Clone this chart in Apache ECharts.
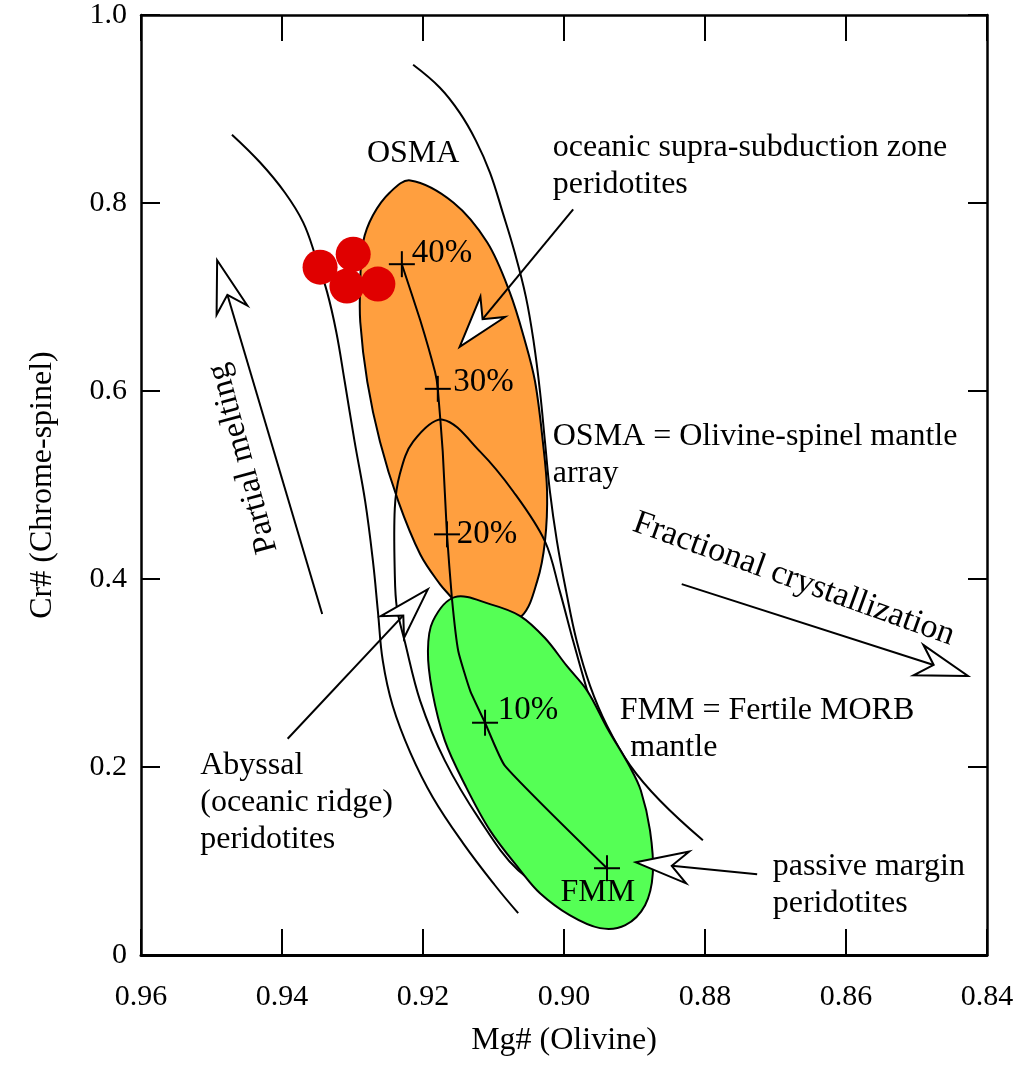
<!DOCTYPE html>
<html lang="en">
<head>
<meta charset="UTF-8">
<title>Cr# spinel vs Mg# olivine</title>
<script src="https://cdn.jsdelivr.net/npm/echarts/dist/echarts.min.js"></script>
<style>
  html, body { margin: 0; padding: 0; background: #fff; }
  #main { width: 1026px; height: 1067px; }
</style>
</head>
<body>
<div id="main"></div>
<script>
var FONT = '"Liberation Serif", "Times New Roman", serif';

// outlines as [Mg# olivine, Cr# spinel]
var osmaField = [
  [0.9218, 0.8240], [0.9157, 0.8006], [0.9109, 0.7582], [0.9077, 0.7052], [0.9055, 0.6522],
  [0.9041, 0.6098], [0.9030, 0.5461], [0.9024, 0.4931], [0.9027, 0.4401], [0.9038, 0.3977],
  [0.9060, 0.3606], [0.9105, 0.3468], [0.9140, 0.3574], [0.9159, 0.3796], [0.9176, 0.3945],
  [0.9204, 0.4263], [0.9235, 0.4825], [0.9261, 0.5461], [0.9279, 0.6098], [0.9289, 0.6734],
  [0.9289, 0.7158], [0.9285, 0.7582], [0.9271, 0.7869], [0.9247, 0.8112]
];
var fmmField = [
  [0.9155, 0.3807], [0.9105, 0.3733], [0.9062, 0.3606], [0.9027, 0.3372], [0.8996, 0.3075],
  [0.8967, 0.2810], [0.8939, 0.2418], [0.8906, 0.1994], [0.8891, 0.1750], [0.8878, 0.1326],
  [0.8874, 0.0870], [0.8885, 0.0530], [0.8913, 0.0318], [0.8949, 0.0286], [0.8992, 0.0424],
  [0.9034, 0.0657], [0.9062, 0.0901], [0.9105, 0.1326], [0.9140, 0.1803], [0.9169, 0.2280],
  [0.9187, 0.2810], [0.9193, 0.3234], [0.9186, 0.3552]
];
var abyssalField = [
  [0.9172, 0.5695], [0.9119, 0.5355], [0.9072, 0.4931], [0.9027, 0.4401], [0.9006, 0.3871],
  [0.8987, 0.3340], [0.8967, 0.2810], [0.8942, 0.2174], [0.8935, 0.1432], [0.8963, 0.0795],
  [0.9013, 0.0689], [0.9065, 0.0901], [0.9119, 0.1432], [0.9169, 0.2068], [0.9204, 0.2704],
  [0.9226, 0.3340], [0.9237, 0.3690], [0.9240, 0.4051], [0.9240, 0.4751], [0.9233, 0.5111],
  [0.9214, 0.5461]
];
var curveLeft = [
  [0.9471, 0.8727], [0.9431, 0.8431], [0.9396, 0.8112], [0.9370, 0.7794], [0.9352, 0.7423],
  [0.9336, 0.7052], [0.9323, 0.6628], [0.9311, 0.6098], [0.9297, 0.5461], [0.9282, 0.4825],
  [0.9271, 0.4189], [0.9264, 0.3659], [0.9257, 0.3128], [0.9243, 0.2651], [0.9218, 0.2153],
  [0.9186, 0.1676], [0.9143, 0.1188], [0.9098, 0.0742], [0.9065, 0.0445]
];
var curveRight = [
  [0.9214, 0.9470], [0.9176, 0.9226], [0.9148, 0.8961], [0.9125, 0.8664], [0.9105, 0.8324],
  [0.9087, 0.7900], [0.9070, 0.7476], [0.9054, 0.6999], [0.9043, 0.6522], [0.9034, 0.5992],
  [0.9027, 0.5461], [0.9020, 0.4931], [0.9010, 0.4401], [0.8997, 0.3871], [0.8982, 0.3340],
  [0.8963, 0.2863], [0.8939, 0.2439], [0.8906, 0.2015], [0.8864, 0.1644], [0.8803, 0.1220]
];
var meltTrend = [
  [0.9230, 0.7349], [0.9204, 0.6755], [0.9183, 0.6204], [0.9179, 0.6023], [0.9172, 0.5355],
  [0.9166, 0.4475], [0.9159, 0.3796], [0.9150, 0.3234], [0.9133, 0.2810], [0.9112, 0.2471],
  [0.9084, 0.2015], [0.8939, 0.0923]
];
var meltSteps = [[0.9230, 0.7349], [0.9179, 0.6023], [0.9166, 0.4475], [0.9112, 0.2471], [0.8939, 0.0923]];
var samples = [[0.9346, 0.7317], [0.9299, 0.7455], [0.9308, 0.7116], [0.9264, 0.7137]];

var arrowTails = [[0.9343, 0.3627], [0.8987, 0.7932], [0.9392, 0.2301], [0.8833, 0.3945], [0.8726, 0.0859]];
var arrowTips  = [[0.9492, 0.7391], [0.9148, 0.6469], [0.9193, 0.3892], [0.8427, 0.2969], [0.8898, 0.0986]];

var noteText = [
  'OSMA', 'oceanic supra-subduction zone\nperidotites', 'OSMA = Olivine-spinel mantle\narray',
  'Abyssal\n(oceanic ridge)\nperidotites', 'FMM = Fertile MORB', 'mantle', 'passive margin\nperidotites',
  'Partial melting', 'Fractional crystallization', '40%', '30%', '20%', '10%', 'FMM'
];
var noteAt = [
  [0.9214, 0.8526], [0.9016, 0.8388], [0.9016, 0.5313], [0.9516, 0.1622], [0.8921, 0.2598],
  [0.8906, 0.2206], [0.8704, 0.0742], [0.9455, 0.5281], [0.8674, 0.3998],
  [0.9216, 0.7466], [0.9157, 0.6087], [0.9152, 0.4475], [0.9094, 0.2598], [0.8952, 0.0668]
];
var noteAlign  = ['center', 'left', 'left', 'left', 'left', 'left', 'left', 'center', 'center', 'left', 'left', 'left', 'left', 'center'];
var noteRotate = [0, 0, 0, 0, 0, 0, 0, 105, -19.8, 0, 0, 0, 0, 0];
var noteSize   = [32, 32, 32, 32, 32, 32, 32, 33, 34, 33, 33, 33, 33, 32];

var chart = echarts.init(document.getElementById('main'));

// closed outline (filled or not) drawn once through the axes
function field(points, fill, z) {
  return {
    type: 'custom', z: z, silent: true, data: points,
    renderItem: function (params, api) {
      if (params.dataIndex !== 0) return null;
      var pts = points.map(function (p) { return api.coord(p); });
      return {
        type: 'polygon',
        shape: { points: pts, smooth: 0.35 },
        style: { fill: fill, stroke: '#000', lineWidth: 2 }
      };
    }
  };
}

// open curve, smoothed or straight
function curve(points, z, smooth) {
  return {
    type: 'custom', z: z, silent: true, data: points,
    renderItem: function (params, api) {
      if (params.dataIndex !== 0) return null;
      var pts = points.map(function (p) { return api.coord(p); });
      return {
        type: 'polyline',
        shape: { points: pts, smooth: smooth },
        style: { fill: null, stroke: '#000', lineWidth: 2 }
      };
    }
  };
}

var axisFont = { fontFamily: FONT, fontSize: 30, color: '#000' };
var nameFont = { fontFamily: FONT, fontSize: 32, color: '#000' };

var option = {
  animation: false,
  grid: { left: 141, right: 39, top: 12, bottom: 112 },
  xAxis: [{
    type: 'value', min: 0.84, max: 0.96, interval: 0.02, inverse: true, position: 'bottom',
    name: 'Mg# (Olivine)', nameLocation: 'middle', nameGap: 70, nameTextStyle: nameFont,
    axisLine: { onZero: false, lineStyle: { color: '#000', width: 3 } },
    axisTick: { inside: true, length: 26, lineStyle: { color: '#000', width: 2 } },
    axisLabel: Object.assign({ margin: 27, formatter: function (v) { return v.toFixed(2); } }, axisFont),
    splitLine: { show: false }
  }, {
    type: 'value', min: 0.84, max: 0.96, interval: 0.02, inverse: true, position: 'top',
    axisLine: { onZero: false, lineStyle: { color: '#000', width: 2.5 } },
    axisTick: { inside: true, length: 26, lineStyle: { color: '#000', width: 2 } },
    axisLabel: { show: false }, splitLine: { show: false }
  }],
  yAxis: [{
    type: 'value', min: 0, max: 1, interval: 0.2, position: 'left',
    name: 'Cr# (Chrome-spinel)', nameLocation: 'middle', nameGap: 82, nameTextStyle: nameFont,
    axisLine: { show: true, onZero: false, lineStyle: { color: '#000', width: 2.5 } },
    axisTick: { show: true, inside: true, length: 19, lineStyle: { color: '#000', width: 2 } },
    axisLabel: Object.assign({ margin: 14, formatter: function (v) { return v === 0 ? '0' : v.toFixed(1); } }, axisFont),
    splitLine: { show: false }
  }, {
    type: 'value', min: 0, max: 1, interval: 0.2, position: 'right',
    axisLine: { show: true, onZero: false, lineStyle: { color: '#000', width: 2.5 } },
    axisTick: { show: true, inside: true, length: 19, lineStyle: { color: '#000', width: 2 } },
    axisLabel: { show: false }, splitLine: { show: false }
  }],
  series: [
    field(osmaField, '#FF9F3F', 1),
    field(abyssalField, 'rgba(0,0,0,0)', 2),
    curve(curveLeft, 3, 0.4),
    curve(curveRight, 3, 0.4),
    field(fmmField, '#55FF55', 4),
    curve(meltTrend, 5, 0.15),
    {
      type: 'custom', z: 6, silent: true, data: meltSteps,
      renderItem: function (params, api) {
        var c = api.coord([api.value(0), api.value(1)]);
        var h = 13;
        return {
          type: 'group', children: [
            { type: 'line', shape: { x1: c[0] - h, y1: c[1], x2: c[0] + h, y2: c[1] }, style: { stroke: '#000', lineWidth: 2 } },
            { type: 'line', shape: { x1: c[0], y1: c[1] - h, x2: c[0], y2: c[1] + h }, style: { stroke: '#000', lineWidth: 2 } }
          ]
        };
      }
    },
    {
      type: 'scatter', z: 7, silent: true, data: samples,
      symbol: 'circle', symbolSize: 35, itemStyle: { color: '#E00000', opacity: 1 }
    },
    {
      type: 'custom', z: 8, silent: true,
      dimensions: ['x1', 'y1', 'x2', 'y2'],
      encode: { x: [0, 2], y: [1, 3] },
      data: arrowTails.map(function (t, i) { return [t[0], t[1], arrowTips[i][0], arrowTips[i][1]]; }),
      renderItem: function (params, api) {
        var a = api.coord([api.value(0), api.value(1)]);
        var b = api.coord([api.value(2), api.value(3)]);
        var dx = b[0] - a[0], dy = b[1] - a[1];
        var len = Math.sqrt(dx * dx + dy * dy);
        var ux = dx / len, uy = dy / len, nx = -uy, ny = ux;
        var L = 52, W = 16, N = 36;
        var notch = [b[0] - N * ux, b[1] - N * uy];
        var head = [
          b,
          [b[0] - L * ux + W * nx, b[1] - L * uy + W * ny],
          notch,
          [b[0] - L * ux - W * nx, b[1] - L * uy - W * ny]
        ];
        return {
          type: 'group', children: [
            { type: 'line', shape: { x1: a[0], y1: a[1], x2: notch[0], y2: notch[1] }, style: { stroke: '#000', lineWidth: 2 } },
            { type: 'polygon', shape: { points: head }, style: { fill: '#fff', stroke: '#000', lineWidth: 2 } }
          ]
        };
      }
    },
    {
      type: 'custom', z: 9, silent: true, data: noteAt,
      renderItem: function (params, api) {
        var i = params.dataIndex;
        var c = api.coord([api.value(0), api.value(1)]);
        return {
          type: 'text', x: c[0], y: c[1], rotation: noteRotate[i] * Math.PI / 180,
          style: {
            text: noteText[i], fill: '#000', fontFamily: FONT, fontSize: noteSize[i],
            align: noteAlign[i], verticalAlign: 'middle', lineHeight: 37
          }
        };
      }
    }
  ]
};

chart.setOption(option);
</script>
</body>
</html>
